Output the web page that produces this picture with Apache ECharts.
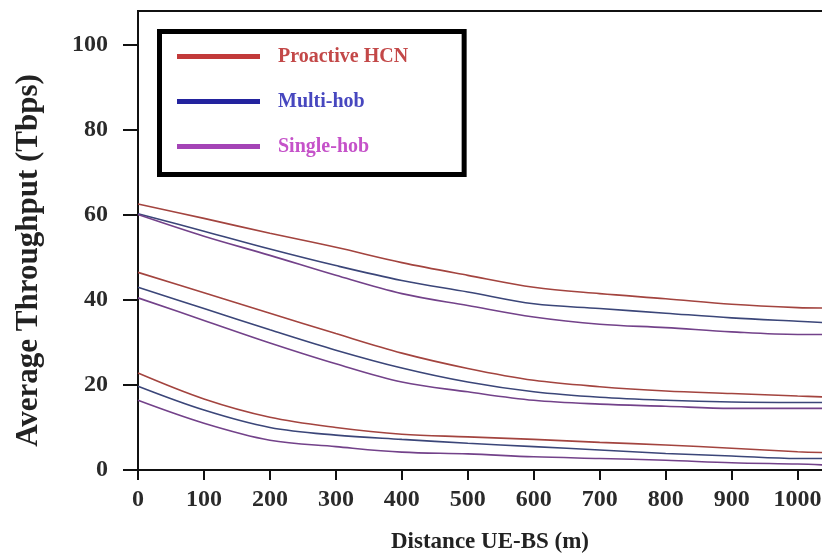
<!DOCTYPE html>
<html>
<head>
<meta charset="utf-8">
<script src="https://cdn.jsdelivr.net/npm/echarts@6/dist/echarts.min.js"></script>
<style>
  html, body { margin: 0; padding: 0; background: #fff; }
  #chart { width: 822px; height: 559px; }
</style>
</head>
<body>
<div id="chart"></div>
<script>
// distance UE-BS (m)
const distance = [0, 100, 200, 300, 400, 500, 600, 700, 800, 900, 1000, 1040]
const xTicks = [0, 100, 200, 300, 400, 500, 600, 700, 800, 900, 1000]
const yTicks = [0, 20, 40, 60, 80, 100]

// upper group
const proactiveA = [62.6, 59.2, 55.7, 52.4, 48.8, 45.8, 43.0, 41.5, 40.3, 39.0, 38.2, 38.1]
const multiA = [60.3, 56.2, 52.0, 48.1, 44.6, 41.9, 39.1, 38.0, 36.9, 35.8, 35.0, 34.7]
const singleA = [60.1, 55.0, 50.5, 45.8, 41.5, 38.7, 36.0, 34.3, 33.5, 32.5, 31.9, 31.9]
// middle group
const proactiveB = [46.5, 41.7, 36.9, 32.1, 27.5, 23.9, 21.1, 19.6, 18.6, 18.0, 17.4, 17.2]
const multiB = [43.0, 38.0, 33.0, 28.2, 24.0, 20.7, 18.4, 17.1, 16.4, 16.0, 15.9, 15.9]
const singleB = [40.5, 35.2, 29.9, 25.0, 20.7, 18.4, 16.4, 15.5, 15.0, 14.5, 14.5, 14.5]
// lower group
const proactiveC = [22.8, 16.7, 12.4, 10.0, 8.4, 7.8, 7.2, 6.5, 5.9, 5.1, 4.3, 4.1]
const multiC = [19.7, 14.1, 10.0, 8.2, 7.2, 6.3, 5.5, 4.7, 3.9, 3.3, 2.7, 2.7]
const singleC = [16.4, 11.0, 7.0, 5.5, 4.2, 3.8, 3.1, 2.7, 2.3, 1.7, 1.4, 1.2]

const names = ['Proactive HCN', 'Multi-hob', 'Single-hob']
const lineColors = ['#a3443f', '#3b4679', '#73428a']
const legendIconColors = ['#c23a3a', '#23239e', '#a444b6']
const legendTextColors = ['#c34848', '#4747bf', '#c552c9']

const font = 'Liberation Serif'

const chart = echarts.init(document.getElementById('chart'), null, { renderer: 'canvas' })

function pairs (ys) {
  return distance.map((x, i) => [x, ys[i]])
}

const groups = [
  [proactiveA, multiA, singleA],
  [proactiveB, multiB, singleB],
  [proactiveC, multiC, singleC]
]

const series = []
groups.forEach(g => {
  g.forEach((ys, k) => {
    series.push({
      name: names[k],
      type: 'line',
      smooth: 0.35,
      showSymbol: false,
      symbol: 'none',
      lineStyle: { color: lineColors[k], width: 1.6 },
      itemStyle: { color: lineColors[k] },
      data: pairs(ys)
    })
  })
})

const option = {
  backgroundColor: '#fff',
  animation: false,
  grid: {
    left: 138,
    right: -2,
    top: 11,
    bottom: 89,
    show: true,
    borderColor: '#111',
    borderWidth: 2,
    containLabel: false,
    outerBoundsMode: 'none'
  },
  legend: {
    orient: 'vertical',
    left: 159.5,
    top: 31.5,
    padding: [15, 56, 18, 17.5],
    borderColor: '#000',
    borderWidth: 5,
    backgroundColor: '#fff',
    icon: 'rect',
    itemWidth: 83,
    itemHeight: 5,
    itemGap: 25,
    textStyle: {
      fontFamily: font,
      fontWeight: 'bold',
      fontSize: 20,
      lineHeight: 20,
      padding: [0, 0, 0, 13]
    },
    data: names.map((n, k) => ({
      name: n,
      itemStyle: { color: legendIconColors[k] },
      textStyle: { color: legendTextColors[k] }
    }))
  },
  xAxis: {
    type: 'value',
    min: 0,
    max: 1040,
    interval: 100,
    name: 'Distance UE-BS (m)',
    nameLocation: 'middle',
    nameGap: 61,
    nameMoveOverlap: false,
    nameTextStyle: {
      fontFamily: font,
      fontWeight: 'bold',
      fontSize: 23,
      color: '#222',
      padding: [0, 0, 0, 18]
    },
    axisLine: { show: true, lineStyle: { color: '#111', width: 2 } },
    axisTick: { show: true, inside: false, length: 10, lineStyle: { color: '#111', width: 2 }, customValues: xTicks },
    axisLabel: {
      margin: 18,
      fontFamily: font,
      fontWeight: 'bold',
      fontSize: 24,
      color: '#2a2a2a',
      customValues: xTicks,
      formatter: v => String(v)
    },
    splitLine: { show: false }
  },
  yAxis: {
    type: 'value',
    min: 0,
    max: 108,
    interval: 20,
    name: 'Average Throughput (Tbps)',
    nameLocation: 'middle',
    nameGap: 94,
    nameMoveOverlap: false,
    nameTextStyle: {
      fontFamily: font,
      fontWeight: 'bold',
      fontSize: 31,
      color: '#222',
      padding: [0, 40, 0, 0]
    },
    axisLine: { show: true, lineStyle: { color: '#111', width: 2 } },
    axisTick: { show: true, inside: false, length: 15, lineStyle: { color: '#111', width: 2 }, customValues: yTicks },
    axisLabel: {
      margin: 30,
      fontFamily: font,
      fontWeight: 'bold',
      fontSize: 24,
      color: '#2a2a2a',
      customValues: yTicks,
      formatter: v => String(v)
    },
    splitLine: { show: false }
  },
  series: series
}

chart.setOption(option)
</script>
</body>
</html>
